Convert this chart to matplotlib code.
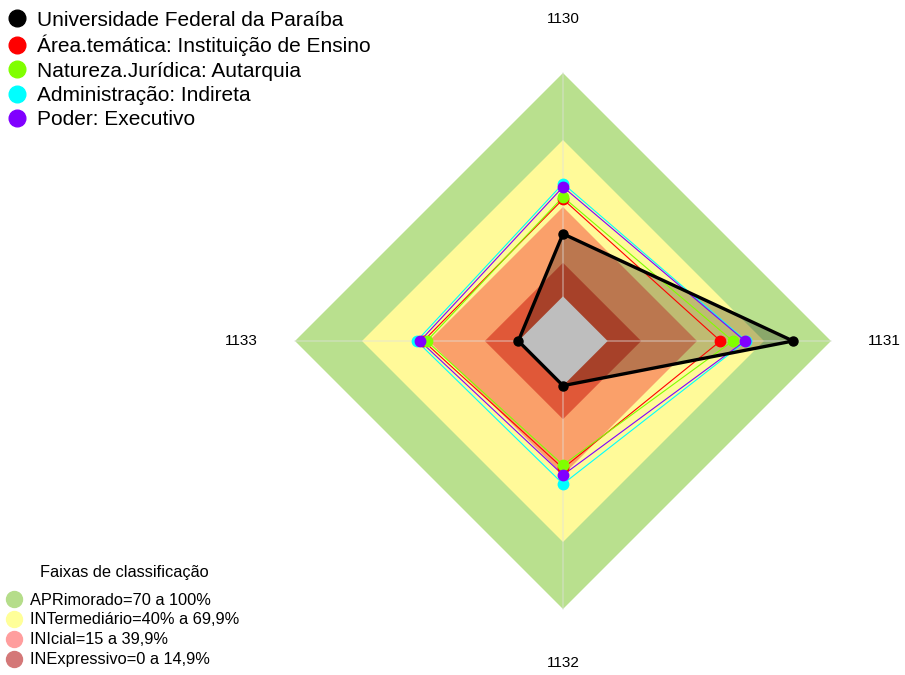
import numpy as np
import matplotlib
matplotlib.use('Agg')
import matplotlib.pyplot as plt
from matplotlib.lines import Line2D

plt.rcParams['font.family'] = ['Liberation Sans', 'DejaVu Sans']

# data (percent)
axis_labels = ['1130', '1131', '1132', '1133']
series_names = ['Universidade Federal da Paraíba',
                'Área.temática: Instituição de Ensino',
                'Natureza.Jurídica: Autarquia',
                'Administração: Indireta',
                'Poder: Executivo']
ufpb = [28, 83, 0, 0]
area_tematica = [43.5, 50.5, 37, 42.5]
natureza = [44.5, 56, 35.5, 41]
administracao = [50.5, 62, 44, 45.5]
poder = [49, 61.5, 40, 44]
series_colors = ['black', '#FF0000', '#80FF00', '#00FFFF', '#8000FF']

band_limits = [100, 70, 40, 15, 0]
band_colors = ['#B9E08E', '#FFFA99', '#FAA06A', '#E05838', '#BEBEBE']
band_labels = ['APRimorado=70 a 100%', 'INTermediário=40% a 69,9%',
               'INIcial=15 a 39,9%', 'INExpressivo=0 a 14,9%']
band_legend_colors = ['#B5DD8A', '#FFFF99', '#FF9E9E', '#D47878']

vmin, vmax = -20, 100
angles = np.deg2rad([90, 0, -90, 180])


def to_xy(values):
    r = (np.asarray(values, dtype=float) - vmin) / (vmax - vmin)
    x = r * np.cos(angles)
    y = r * np.sin(angles)
    return np.append(x, x[0]), np.append(y, y[0])


W, H = 905, 675
cx, cy, R = 563, 341, 268
fig = plt.figure(figsize=(W / 100, H / 100), dpi=100)
ax = fig.add_axes([0, 0, 1, 1])
ax.set_xlim(-cx / R, (W - cx) / R)
ax.set_ylim(-(H - cy) / R, cy / R)
ax.axis('off')

# classification bands
for lim, col in zip(band_limits, band_colors):
    x, y = to_xy([lim] * 4)
    ax.fill(x, y, color=col, lw=0, zorder=4 if lim == 0 else 1)

# spokes
for a in angles:
    ax.plot([0, np.cos(a)], [0, np.sin(a)], color='#E0E0E0', alpha=0.45, lw=1.2, zorder=3.5)

# series
all_series = [ufpb, area_tematica, natureza, administracao, poder]
x, y = to_xy(ufpb)
ax.fill(x, y, color='black', alpha=0.25, lw=0, zorder=3)
for vals, col in list(zip(all_series, series_colors))[1:]:
    x, y = to_xy(vals)
    ax.plot(x, y, color=col, lw=0.8, zorder=5)
    ax.plot(x[:-1], y[:-1], 'o', color=col, ms=7.5, zorder=5.5)
x, y = to_xy(ufpb)
ax.plot(x, y, color='black', lw=2.4, zorder=6)
ax.plot(x[:-1], y[:-1], 'o', color='black', ms=6.5, zorder=6)

for lab, a in zip(axis_labels, angles):
    ax.text(1.2 * np.cos(a), 1.2 * np.sin(a), lab, ha='center', va='center', fontsize=11)

handles = [Line2D([], [], marker='o', ls='', color=c, ms=12) for c in series_colors]
leg1 = fig.legend(handles, series_names, loc='upper left', bbox_to_anchor=(0.0, 1 - 3 / H),
                  frameon=False, fontsize=15, handlelength=0.9, handletextpad=0.5,
                  labelspacing=0.25, borderaxespad=0.15, borderpad=0.22)

band_handles = [Line2D([], [], marker='o', ls='', color=c, ms=11.5) for c in band_legend_colors]
leg2 = fig.legend(band_handles, band_labels, loc='lower left', bbox_to_anchor=(0.0, 2 / H),
                  frameon=False, fontsize=11.8, handlelength=1.0, handletextpad=0.475,
                  labelspacing=0.3, borderaxespad=0.15, borderpad=0.2)
fig.text(124 / W, 1 - 572 / H, 'Faixas de classificação', ha='center', va='center',
         fontsize=11.8)

fig.savefig('out.png', dpi=100)
